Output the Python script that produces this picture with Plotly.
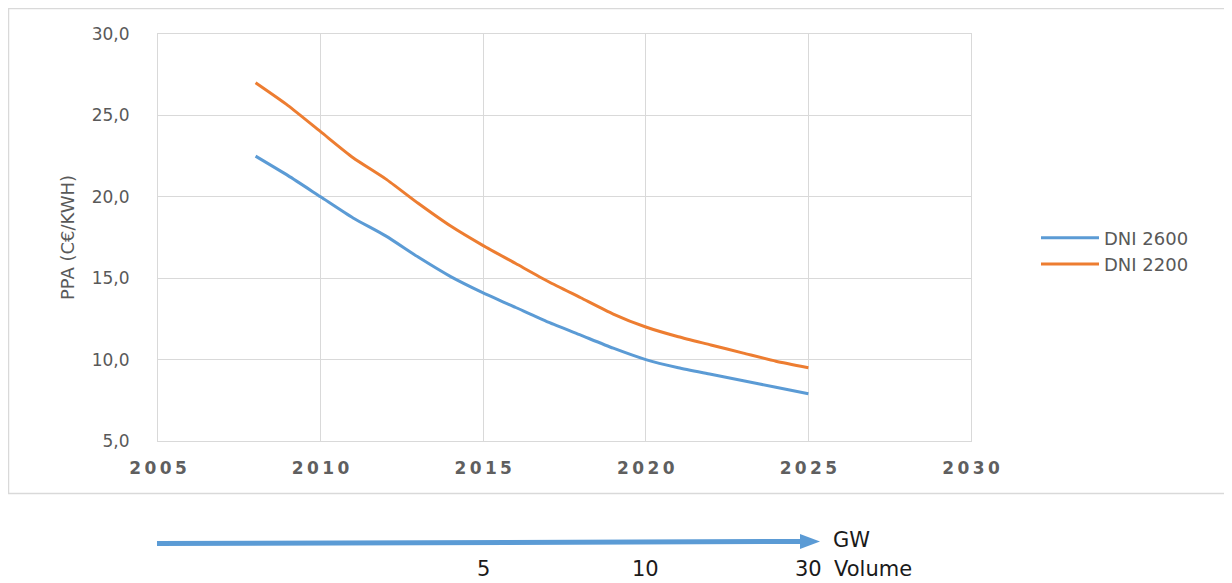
import plotly.graph_objects as go

years = list(range(2008, 2026))
dni_2600 = [22.5, 21.3, 20.0, 18.7, 17.6, 16.3, 15.1, 14.1, 13.2, 12.3, 11.5, 10.7, 10.0, 9.5, 9.1, 8.7, 8.3, 7.9]
dni_2200 = [27.0, 25.6, 24.0, 22.4, 21.1, 19.6, 18.2, 17.0, 15.9, 14.8, 13.8, 12.8, 12.0, 11.4, 10.9, 10.4, 9.9, 9.5]
series_names = ["DNI 2600", "DNI 2200"]
x_ticks = [2005, 2010, 2015, 2020, 2025, 2030]
x_tick_labels = ["\u2009".join(str(t)) for t in x_ticks]
y_ticks = [5, 10, 15, 20, 25, 30]
volume_years = [2015, 2020, 2025]
volume_labels = ["5", "10", "30"]

BLUE = "#5B9BD5"
ORANGE = "#ED7D31"
GRID = "#D9D9D9"
TXT = "#595959"
DARK = "#1a1a1a"
FONT = "DejaVu Sans"

# page has an 8px body margin; work in page pixels and shift
OFF = 8
W, H = 1232 - OFF, 583 - OFF
L, R, T, B = 158, 971, 34, 441  # plot area in page pixels


def px(xp):
    return (xp - L) / (R - L)


def py(yp):
    return (B - yp) / (B - T)


fig = go.Figure()
fig.add_trace(go.Scatter(x=years, y=dni_2600, name=series_names[0], mode="lines",
                         line=dict(color=BLUE, width=3, shape="spline", smoothing=0.6)))
fig.add_trace(go.Scatter(x=years, y=dni_2200, name=series_names[1], mode="lines",
                         line=dict(color=ORANGE, width=3, shape="spline", smoothing=0.6)))

fig.update_layout(
    width=W, height=H,
    margin=dict(l=L - OFF, r=1232 - R, t=T - OFF, b=583 - B),
    paper_bgcolor="white", plot_bgcolor="white",
    separators=",.",
    font=dict(family=FONT, color=TXT, size=16),
    showlegend=True,
    legend=dict(x=px(1036), y=py(251), xanchor="left", yanchor="middle",
                font=dict(size=18, color=TXT), itemwidth=58, tracegroupgap=0,
                bgcolor="rgba(0,0,0,0)"),
)

fig.update_xaxes(range=[2005, 2030], tickvals=x_ticks, ticktext=x_tick_labels,
                 showgrid=True, gridcolor=GRID, gridwidth=1,
                 showline=True, linecolor=GRID, linewidth=1, mirror=True,
                 zeroline=False, ticks="", ticklabelstandoff=12,
                 tickfont=dict(size=17, color="#5f5f5f", weight="bold"))
fig.update_yaxes(range=[5, 30], tickvals=y_ticks, tickformat=".1f",
                 showgrid=True, gridcolor=GRID, gridwidth=1,
                 showline=True, linecolor=GRID, linewidth=1, mirror=True,
                 zeroline=False, ticks="", ticklabelstandoff=24,
                 tickfont=dict(size=17, color=TXT),
                 title=dict(text="PPA (C€/KWH)", font=dict(size=18, color=TXT), standoff=12))

# outer chart frame
fig.add_shape(type="rect", xref="paper", yref="paper",
              x0=px(8.5), x1=px(1228.5), y0=py(493.5), y1=py(8.5),
              line=dict(color=GRID, width=1.5), fillcolor="rgba(0,0,0,0)", layer="below")

# volume arrow
fig.add_shape(type="line", xref="paper", yref="paper",
              x0=px(157), x1=px(802), y0=py(543.5), y1=py(541.5),
              line=dict(color=BLUE, width=5))
fig.add_shape(type="path", xref="paper", yref="paper",
              path=f"M {px(800)} {py(534)} L {px(820)} {py(541.5)} L {px(800)} {py(549)} Z",
              fillcolor=BLUE, line=dict(color=BLUE, width=0))

fig.add_annotation(x=px(831), y=py(540), xref="paper", yref="paper", text="GW",
                   showarrow=False, xanchor="left", yanchor="middle",
                   font=dict(size=21, color=DARK))
for yr, lab in zip(volume_years, volume_labels):
    fig.add_annotation(x=yr, y=py(569), xref="x", yref="paper", text=lab,
                       showarrow=False, xanchor="center", yanchor="middle",
                       font=dict(size=21, color=DARK))
fig.add_annotation(x=px(832), y=py(569), xref="paper", yref="paper", text="Volume",
                   showarrow=False, xanchor="left", yanchor="middle",
                   font=dict(size=21, color=DARK))

fig.write_html("out.html")
